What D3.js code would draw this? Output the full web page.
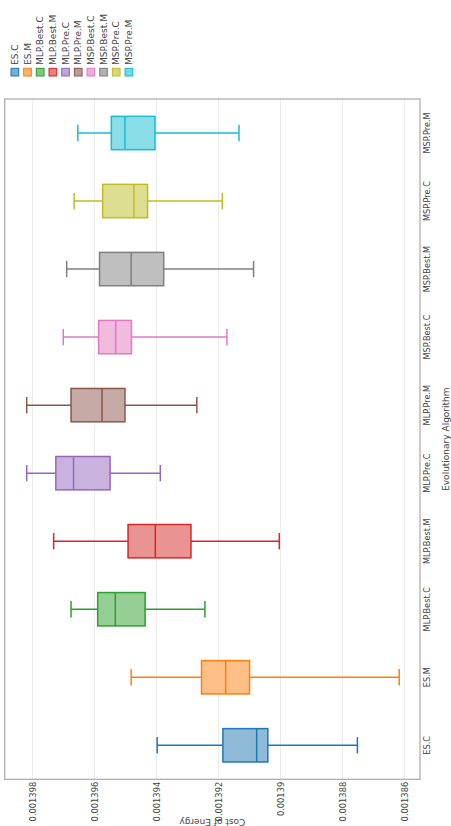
<!DOCTYPE html>
<html>
<head>
<meta charset="utf-8">
<script src="https://cdn.jsdelivr.net/npm/d3@7"></script>
<style>
  html, body { margin: 0; padding: 0; background: #fff; }
  svg { display: block; font-family: 'DejaVu Sans', sans-serif; }
</style>
</head>
<body>
<div id="chart"></div>
<script>
const categories = ['ES.C', 'ES.M', 'MLP.Best.C', 'MLP.Best.M', 'MLP.Pre.C', 'MLP.Pre.M',
  'MSP.Best.C', 'MSP.Best.M', 'MSP.Pre.C', 'MSP.Pre.M'];
const whiskerHigh = [0.00139398, 0.00139482, 0.00139676, 0.00139732, 0.00139819, 0.00139819,
  0.00139701, 0.00139690, 0.00139666, 0.00139654];
const q3Values = [0.00139186, 0.00139255, 0.00139590, 0.00139492, 0.00139725, 0.00139676,
  0.00139587, 0.00139584, 0.00139574, 0.00139546];
const medianValues = [0.00139077, 0.00139177, 0.00139533, 0.00139404, 0.00139668, 0.00139576,
  0.00139532, 0.00139482, 0.00139473, 0.00139502];
const q1Values = [0.00139041, 0.00139100, 0.00139437, 0.00139289, 0.00139550, 0.00139502,
  0.00139481, 0.00139377, 0.00139429, 0.00139405];
const whiskerLow = [0.00138752, 0.00138617, 0.00139244, 0.00139004, 0.00139388, 0.00139270,
  0.00139173, 0.00139087, 0.00139188, 0.00139134];
const yTicks = [0.001386, 0.001388, 0.00139, 0.001392, 0.001394, 0.001396, 0.001398];
const colors = ['#1f77b4', '#ff7f0e', '#2ca02c', '#d62728', '#9467bd', '#8c564b',
  '#e377c2', '#7f7f7f', '#bcbd22', '#17becf'];

const pageW = 451;
const pageH = 826;
// the chart is drawn in its own frame (826 wide, 451 tall), then turned a quarter left
const plot = { left: 46.7, right: 727, top: 4.7, bottom: 420 };

const svg = d3.select('#chart')
  .append('svg')
  .attr('width', pageW)
  .attr('height', pageH);

const g = svg.append('g')
  .attr('transform', `translate(0,${pageH}) rotate(-90)`);

const boxes = categories.map((c, i) => ({
  name: c,
  hi: whiskerHigh[i],
  q3: q3Values[i],
  med: medianValues[i],
  q1: q1Values[i],
  lo: whiskerLow[i],
  color: colors[i]
}));

const x = d3.scaleBand()
  .domain(categories)
  .range([plot.left, plot.right]);

const y = d3.scaleLinear()
  .domain([0.0013855, 0.0013989])
  .range([plot.bottom, plot.top]);

// Grid lines
g.append('g')
  .selectAll('line')
  .data(yTicks)
  .join('line')
  .attr('x1', plot.left)
  .attr('x2', plot.right)
  .attr('y1', (d) => y(d))
  .attr('y2', (d) => y(d))
  .attr('stroke', '#ececec')
  .attr('stroke-width', 1);

// Y axis
const yAxisCall = d3.axisLeft(y)
  .tickValues(yTicks)
  .tickSize(0)
  .tickPadding(2.5)
  .tickFormat((d) => String(+d.toFixed(6)));
g.append('g')
  .attr('transform', `translate(${plot.left},0)`)
  .call(yAxisCall)
  .call((a) => a.select('.domain').remove())
  .call((a) => a.selectAll('.tick text')
    .attr('fill', '#444')
    .attr('font-size', 8.3)
    .attr('font-family', 'DejaVu Sans, sans-serif'));

// X axis
const xAxisCall = d3.axisBottom(x).tickSize(0).tickPadding(4);
g.append('g')
  .attr('transform', `translate(0,${plot.bottom})`)
  .call(xAxisCall)
  .call((a) => a.select('.domain').remove())
  .call((a) => a.selectAll('.tick text')
    .attr('fill', '#444')
    .attr('font-size', 8.2)
    .attr('font-family', 'DejaVu Sans, sans-serif'));

// Frame
g.append('rect')
  .attr('x', plot.left)
  .attr('y', plot.top)
  .attr('width', plot.right - plot.left)
  .attr('height', plot.bottom - plot.top)
  .attr('fill', 'none')
  .attr('stroke', '#a8a8a8')
  .attr('stroke-width', 1.2);

// Axis titles
g.append('text')
  .attr('transform', `translate(7.5,${(plot.top + plot.bottom) / 2}) rotate(-90)`)
  .attr('text-anchor', 'middle')
  .attr('font-size', 9)
  .attr('fill', '#444')
  .text('Cost of Energy');

g.append('text')
  .attr('x', (plot.left + plot.right) / 2)
  .attr('y', 443)
  .attr('dy', '0.72em')
  .attr('text-anchor', 'middle')
  .attr('font-size', 9)
  .attr('fill', '#444')
  .text('Evolutionary Algorithm');

// Boxes
const bw = x.bandwidth() * 0.49;
const capW = x.bandwidth() * 0.24;
const box = g.append('g')
  .selectAll('g')
  .data(boxes)
  .join('g')
  .attr('transform', (d) => `translate(${x(d.name) + x.bandwidth() / 2},0)`);

box.append('line')
  .attr('y1', (d) => y(d.lo))
  .attr('y2', (d) => y(d.hi))
  .attr('stroke', (d) => d.color)
  .attr('stroke-width', 1.5);

box.selectAll('.cap')
  .data((d) => [{ v: d.lo, color: d.color }, { v: d.hi, color: d.color }])
  .join('line')
  .attr('class', 'cap')
  .attr('x1', -capW / 2)
  .attr('x2', capW / 2)
  .attr('y1', (d) => y(d.v))
  .attr('y2', (d) => y(d.v))
  .attr('stroke', (d) => d.color)
  .attr('stroke-width', 1.5);

box.append('rect')
  .attr('x', -bw / 2)
  .attr('width', bw)
  .attr('y', (d) => y(d.q3))
  .attr('height', (d) => y(d.q1) - y(d.q3))
  .attr('fill', '#fff')
  .attr('stroke', 'none');

box.append('rect')
  .attr('x', -bw / 2)
  .attr('width', bw)
  .attr('y', (d) => y(d.q3))
  .attr('height', (d) => y(d.q1) - y(d.q3))
  .attr('fill', (d) => d.color)
  .attr('fill-opacity', 0.5)
  .attr('stroke', (d) => d.color)
  .attr('stroke-width', 1.5);

box.append('line')
  .attr('x1', -bw / 2)
  .attr('x2', bw / 2)
  .attr('y1', (d) => y(d.med))
  .attr('y2', (d) => y(d.med))
  .attr('stroke', (d) => d.color)
  .attr('stroke-width', 1.5);

// Legend
const legendStep = 12.67;
const legend = g.append('g')
  .selectAll('g')
  .data(boxes)
  .join('g')
  .attr('transform', (d, i) => `translate(750,${11 + i * legendStep})`);

legend.append('rect')
  .attr('width', 7.7)
  .attr('height', 7.7)
  .attr('fill', (d) => d.color)
  .attr('fill-opacity', 0.6)
  .attr('stroke', (d) => d.color)
  .attr('stroke-width', 1);

legend.append('text')
  .attr('x', 11)
  .attr('y', 3.85)
  .attr('dy', '0.35em')
  .attr('font-size', 9)
  .attr('fill', '#444')
  .text((d) => d.name);
</script>
</body>
</html>
